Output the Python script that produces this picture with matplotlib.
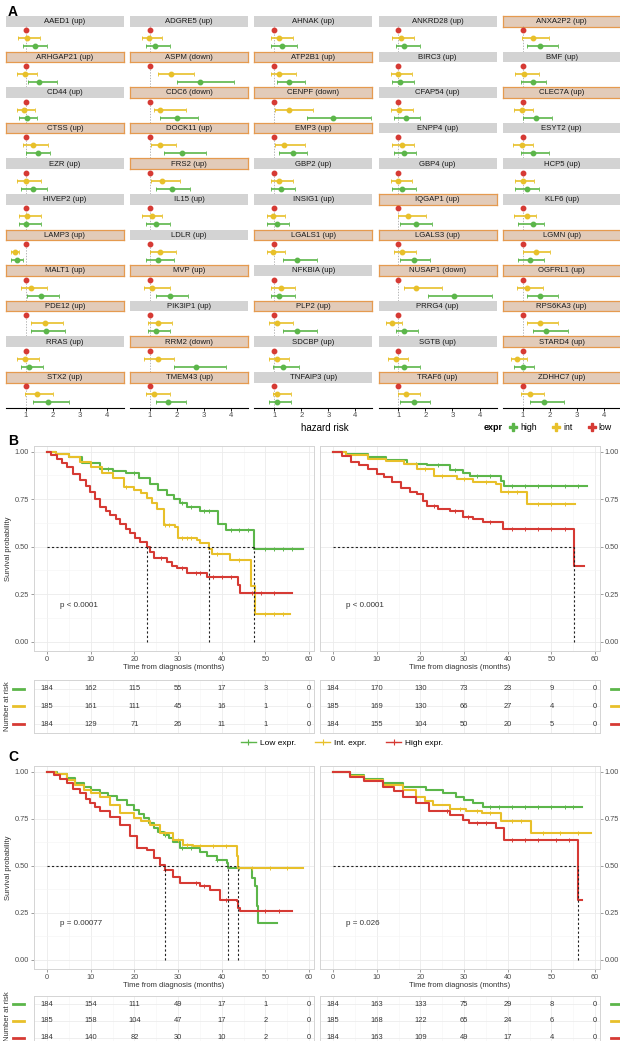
import matplotlib
matplotlib.use('Agg')
import matplotlib.pyplot as plt
from matplotlib.lines import Line2D
from matplotlib.ticker import FormatStrFormatter, MultipleLocator
import numpy as np

plt.rcParams['font.family'] = ['Liberation Sans', 'DejaVu Sans']

W, H = 620, 1041
GREEN = '#5cb64a'
YELLOW = '#e8c02a'
RED = '#d63a34'

# ---------------- panel A data ----------------
genes = ['AAED1', 'ADGRE5', 'AHNAK', 'ANKRD28', 'ANXA2P2',
         'ARHGAP21', 'ASPM', 'ATP2B1', 'BIRC3', 'BMF',
         'CD44', 'CDC6', 'CENPF', 'CFAP54', 'CLEC7A',
         'CTSS', 'DOCK11', 'EMP3', 'ENPP4', 'ESYT2',
         'EZR', 'FRS2', 'GBP2', 'GBP4', 'HCP5',
         'HIVEP2', 'IL15', 'INSIG1', 'IQGAP1', 'KLF6',
         'LAMP3', 'LDLR', 'LGALS1', 'LGALS3', 'LGMN',
         'MALT1', 'MVP', 'NFKBIA', 'NUSAP1', 'OGFRL1',
         'PDE12', 'PIK3IP1', 'PLP2', 'PRRG4', 'RPS6KA3',
         'RRAS', 'RRM2', 'SDCBP', 'SGTB', 'STARD4',
         'STX2', 'TMEM43', 'TNFAIP3', 'TRAF6', 'ZDHHC7']
down_genes = ['ASPM', 'CDC6', 'CENPF', 'NUSAP1', 'RRM2']
highlighted = ['ANXA2P2', 'ARHGAP21', 'ASPM', 'ATP2B1', 'CDC6', 'CENPF', 'CLEC7A',
               'CTSS', 'DOCK11', 'EMP3', 'FRS2', 'IQGAP1', 'LAMP3', 'LGALS1',
               'LGALS3', 'LGMN', 'MALT1', 'MVP', 'NUSAP1', 'OGFRL1', 'PDE12',
               'PLP2', 'RPS6KA3', 'RRM2', 'STARD4', 'STX2', 'TMEM43', 'TRAF6',
               'ZDHHC7']

int_hr = [1.04, 0.98, 1.19, 1.10, 1.37,
          0.97, 1.79, 1.19, 1.00, 1.07,
          0.94, 1.38, 1.53, 1.04, 0.97,
          1.26, 1.38, 1.38, 1.15, 0.97,
          1.01, 1.46, 1.19, 1.00, 1.00,
          1.04, 1.09, 0.97, 1.37, 1.15,
          0.60, 1.38, 0.97, 1.15, 1.51,
          1.19, 1.09, 1.24, 1.66, 1.15,
          1.71, 1.31, 1.12, 0.78, 1.66,
          0.97, 1.31, 1.12, 0.93, 0.78,
          1.41, 1.16, 1.12, 1.29, 1.29]
int_lo = [0.72, 0.72, 0.87, 0.78, 0.97,
          0.68, 1.28, 0.90, 0.71, 0.71,
          0.68, 1.16, 1.04, 0.71, 0.70,
          0.90, 1.04, 1.04, 0.78, 0.63,
          0.68, 1.04, 0.87, 0.71, 0.71,
          0.75, 0.72, 0.75, 1.00, 0.70,
          0.46, 1.01, 0.75, 0.85, 1.00,
          0.82, 0.79, 0.90, 1.22, 0.78,
          1.19, 0.94, 0.82, 0.56, 1.15,
          0.68, 0.79, 0.82, 0.63, 0.56,
          0.97, 0.87, 0.97, 1.00, 0.93]
int_hi = [1.53, 1.46, 1.71, 1.59, 1.96,
          1.41, 2.63, 1.79, 1.51, 1.59,
          1.34, 2.34, 2.44, 1.54, 1.37,
          1.81, 1.97, 2.15, 1.59, 1.37,
          1.56, 2.12, 1.71, 1.51, 1.44,
          1.56, 1.46, 1.41, 2.03, 1.51,
          0.75, 1.97, 1.41, 1.66, 2.03,
          1.78, 1.75, 1.78, 2.62, 1.74,
          2.37, 1.82, 1.71, 1.15, 2.32,
          1.49, 1.90, 1.56, 1.37, 1.15,
          2.00, 1.75, 1.63, 1.81, 1.81]
high_hr = [1.34, 1.20, 1.29, 1.22, 1.66,
           1.49, 2.85, 1.56, 1.07, 1.37,
           1.04, 2.00, 3.17, 1.29, 1.51,
           1.44, 2.19, 1.70, 1.22, 1.37,
           1.26, 1.82, 1.26, 1.15, 1.15,
           1.01, 1.24, 1.12, 1.66, 1.37,
           0.68, 1.31, 1.85, 1.59, 1.29,
           1.56, 1.75, 1.19, 3.06, 1.66,
           1.75, 1.24, 1.85, 1.22, 1.88,
           1.12, 2.71, 1.34, 1.22, 1.00,
           1.81, 1.68, 1.12, 1.59, 1.81]
high_lo = [0.90, 0.87, 0.87, 0.93, 1.15,
           1.07, 2.00, 1.12, 0.78, 0.93,
           0.75, 1.38, 2.22, 0.85, 1.00,
           1.00, 1.53, 1.19, 0.85, 0.93,
           0.82, 1.24, 0.87, 0.78, 0.71,
           0.75, 0.87, 0.75, 1.07, 0.85,
           0.46, 0.87, 1.34, 1.07, 0.85,
           1.04, 1.24, 0.90, 2.10, 1.15,
           1.19, 0.94, 1.34, 0.93, 1.37,
           0.82, 1.90, 0.97, 0.85, 0.70,
           1.26, 1.24, 0.82, 1.07, 1.29]
high_hi = [1.78, 1.75, 1.85, 1.81, 2.32,
           2.15, 4.10, 2.15, 1.59, 1.88,
           1.41, 2.78, 4.57, 1.81, 2.10,
           1.90, 3.07, 2.22, 1.66, 1.96,
           1.78, 2.49, 1.78, 1.66, 1.59,
           1.56, 1.75, 1.56, 2.25, 1.81,
           0.90, 1.90, 2.59, 2.18, 1.81,
           2.22, 2.41, 1.78, 4.46, 2.32,
           2.45, 1.75, 2.59, 1.74, 2.69,
           1.63, 3.81, 1.93, 1.81, 1.44,
           2.59, 2.34, 1.63, 2.18, 2.54]

# ---------------- KM data (time in months, survival probability) ----------------
bl_green_t = [0, 2, 5, 8, 12, 15, 18, 21, 23.5, 25.5, 27.5, 29, 30.5, 32, 35, 39.2, 41, 47.4, 58.6]
bl_green_s = [1, 0.99, 0.97, 0.94, 0.91, 0.90, 0.89, 0.86, 0.83, 0.80, 0.77, 0.75, 0.73, 0.71, 0.685, 0.62, 0.59, 0.49, 0.49]
bl_yellow_t = [0, 2, 5, 7.5, 10, 12.5, 15, 17.5, 19.8, 21.5, 22.8, 24, 25.1, 26.7, 29.3, 30, 34.3, 35, 37, 37.7, 41.9, 46.8, 47.6, 55.6]
bl_yellow_s = [1, 0.99, 0.97, 0.945, 0.92, 0.89, 0.86, 0.815, 0.80, 0.78, 0.755, 0.73, 0.70, 0.615, 0.605, 0.545, 0.535, 0.52, 0.49, 0.46, 0.43, 0.29, 0.145, 0.145]
bl_red_t = [0, 1, 2.3, 3.5, 4.6, 6, 7.6, 9, 9.9, 11, 12.2, 13.5, 14.5, 15.8, 16.8, 18, 19, 20.2, 21.3, 22.8, 23.6, 24.4, 27.4, 28.5, 29.7, 32, 36.6, 43.8, 44.2, 56]
bl_red_s = [1, 0.98, 0.96, 0.94, 0.92, 0.885, 0.85, 0.82, 0.79, 0.75, 0.71, 0.69, 0.667, 0.645, 0.62, 0.595, 0.57, 0.545, 0.526, 0.496, 0.47, 0.44, 0.42, 0.40, 0.386, 0.36, 0.34, 0.30, 0.254, 0.254]

br_green_t = [0, 3, 7.9, 12, 17, 21.5, 26.8, 29.8, 31.3, 38.5, 39.2, 58.1]
br_green_s = [1, 0.99, 0.97, 0.955, 0.937, 0.928, 0.905, 0.89, 0.874, 0.847, 0.82, 0.82]
br_yellow_t = [0, 3, 7.9, 12, 16.2, 19.2, 23, 28.3, 32, 37.4, 38.5, 44.5, 55.3]
br_yellow_s = [1, 0.985, 0.96, 0.95, 0.937, 0.91, 0.874, 0.855, 0.838, 0.83, 0.79, 0.726, 0.726]
br_red_t = [0, 2, 4.2, 6, 7.9, 10, 11.7, 13.5, 15.5, 17.5, 19.2, 20.5, 21.5, 24, 26.8, 29.8, 32, 34.3, 38.9, 55.1, 57.4]
br_red_s = [1, 0.975, 0.946, 0.93, 0.91, 0.885, 0.865, 0.84, 0.81, 0.79, 0.775, 0.74, 0.712, 0.70, 0.685, 0.658, 0.645, 0.63, 0.595, 0.396, 0.396]

cl_green_t = [0, 2.3, 4.6, 6.5, 8.4, 10, 12.2, 14, 16, 18.3, 19.8, 21, 22.1, 23.3, 24.4, 25.5, 26.7, 28, 28.9, 30.5, 35, 36.6, 38.8, 41.1, 41.5, 46.9, 47.6, 48, 48.4, 52.6]
cl_green_s = [1, 0.99, 0.965, 0.94, 0.92, 0.90, 0.885, 0.87, 0.85, 0.823, 0.796, 0.775, 0.752, 0.725, 0.70, 0.68, 0.664, 0.645, 0.628, 0.593, 0.575, 0.549, 0.531, 0.513, 0.487, 0.434, 0.39, 0.283, 0.195, 0.195]
cl_yellow_t = [0, 2, 4.6, 6.5, 8.4, 10, 12.2, 14.5, 16.8, 19.8, 21.5, 23.6, 25.9, 28.9, 31.2, 33.5, 43.4, 43.8, 58.6]
cl_yellow_s = [1, 0.985, 0.956, 0.93, 0.90, 0.885, 0.867, 0.823, 0.779, 0.752, 0.735, 0.717, 0.673, 0.637, 0.611, 0.602, 0.549, 0.487, 0.487]
cl_red_t = [0, 1.5, 3, 4.6, 6, 7.6, 9, 9.9, 11, 12.2, 14.5, 16.8, 19, 20.6, 22.8, 24.4, 25.9, 27, 28.9, 30.5, 35, 37.3, 39.6, 43.4, 43.8, 44.2, 56]
cl_red_s = [1, 0.98, 0.96, 0.938, 0.91, 0.885, 0.855, 0.832, 0.81, 0.788, 0.761, 0.717, 0.655, 0.593, 0.584, 0.54, 0.504, 0.478, 0.442, 0.407, 0.393, 0.372, 0.319, 0.31, 0.274, 0.257, 0.257]

cr_green_t = [0, 3.8, 7, 11.4, 16, 21.3, 25.1, 28.2, 30, 32, 34.3, 57.1]
cr_green_s = [1, 0.982, 0.96, 0.938, 0.92, 0.903, 0.885, 0.867, 0.85, 0.832, 0.81, 0.81]
cr_yellow_t = [0, 3.8, 7, 11.4, 16, 19, 21, 22.8, 26.7, 30.5, 34, 38.5, 45.3, 59]
cr_yellow_s = [1, 0.977, 0.955, 0.929, 0.903, 0.867, 0.845, 0.823, 0.80, 0.79, 0.78, 0.735, 0.673, 0.673]
cr_red_t = [0, 3.8, 7, 11.4, 14, 16, 19, 22, 26.7, 29.7, 31.2, 37.3, 39.2, 56, 57.1]
cr_red_s = [1, 0.973, 0.95, 0.92, 0.895, 0.867, 0.832, 0.788, 0.77, 0.743, 0.726, 0.70, 0.637, 0.319, 0.319]

# censored times (a subset)
bl_green_c = [14, 20, 31, 33, 36, 37, 42, 44, 46, 50, 52, 54, 56]
bl_yellow_c = [18, 27, 28, 31, 32, 33, 39, 44, 50, 52, 54]
bl_red_c = [26, 31, 34, 35, 38, 40, 42, 47, 49, 52]
br_green_c = [19, 24, 28, 33, 36, 41, 44, 47, 50, 53, 56]
br_yellow_c = [21, 25, 30, 35, 40, 42, 47, 50, 53]
br_red_c = [23, 28, 31, 36, 41, 44, 47, 50, 53]
cl_green_c = [27, 31, 33, 39, 44]
cl_yellow_c = [27, 30, 32, 35, 38, 41, 47, 51, 55]
cl_red_c = [27, 34, 36, 41, 50, 53]
cr_green_c = [36, 38, 41, 44, 47, 50, 53, 55]
cr_yellow_c = [29, 33, 36, 41, 43, 48, 52, 56]
cr_red_c = [26, 33, 35, 41, 44, 47, 51, 54]

risk_times = [0, 10, 20, 30, 40, 50, 60]
bl_risk = [[184, 162, 115, 55, 17, 3, 0], [185, 161, 111, 45, 16, 1, 0], [184, 129, 71, 26, 11, 1, 0]]
br_risk = [[184, 170, 130, 73, 23, 9, 0], [185, 169, 130, 66, 27, 4, 0], [184, 155, 104, 50, 20, 5, 0]]
cl_risk = [[184, 154, 111, 49, 17, 1, 0], [185, 158, 104, 47, 17, 2, 0], [184, 140, 82, 30, 10, 2, 0]]
cr_risk = [[184, 163, 133, 75, 29, 8, 0], [185, 168, 122, 65, 24, 6, 0], [184, 163, 109, 49, 17, 4, 0]]

fig = plt.figure(figsize=(W / 100, H / 100), dpi=100)


def px_axes(x0, y0, x1, y1):
    return fig.add_axes([x0 / W, 1 - y1 / H, (x1 - x0) / W, (y1 - y0) / H])


# ---------------- panel A ----------------
pitch = 35.6
col_w = 118
for i, g in enumerate(genes):
    r, c = divmod(i, 5)
    x0 = 6 + c * 124.2
    top = 16 + r * pitch
    sax = px_axes(x0, top, x0 + col_w, top + 10.5)
    sax.set_xticks([]); sax.set_yticks([])
    if g in highlighted:
        sax.set_facecolor('#e2cbb9')
        for sp in sax.spines.values():
            sp.set_color('#e59a4f'); sp.set_linewidth(0.9)
    else:
        sax.set_facecolor('#d3d3d3')
        for sp in sax.spines.values():
            sp.set_visible(False)
    lab = g + (' (down)' if g in down_genes else ' (up)')
    sax.text(0.5, 0.45, lab, ha='center', va='center', fontsize=5.6, color='#1a1a1a',
             transform=sax.transAxes)

    ax = px_axes(x0, top + 10.5, x0 + col_w, top + pitch)
    ax.set_xlim(0.27, 4.63)
    ax.set_ylim(0.35, 3.5)
    ax.axvline(1, color='#9a9a9a', lw=0.5, ls=(0, (2, 2)), zorder=0)
    ax.plot([1], [3], 'o', color=RED, ms=3.2)
    ax.errorbar([int_hr[i]], [2], xerr=[[int_hr[i] - int_lo[i]], [int_hi[i] - int_hr[i]]],
                fmt='o', color=YELLOW, ms=3.2, lw=1.2, capsize=1.2, capthick=0.6)
    ax.errorbar([high_hr[i]], [1], xerr=[[high_hr[i] - high_lo[i]], [high_hi[i] - high_hr[i]]],
                fmt='o', color=GREEN, ms=3.2, lw=1.2, capsize=1.2, capthick=0.6)
    ax.set_yticks([])
    for sp in ['top', 'right', 'left']:
        ax.spines[sp].set_visible(False)
    if r == 10:
        ax.spines['bottom'].set_linewidth(0.8)
        ax.set_xticks([1, 2, 3, 4])
        ax.tick_params(axis='x', length=2, width=0.6, labelsize=5.5, pad=1.5, labelcolor='#4d4d4d')
    else:
        ax.spines['bottom'].set_visible(False)
        ax.set_xticks([])
    ax.patch.set_alpha(0)

fig.text(325 / W, 1 - 428 / H, 'hazard risk', ha='center', va='center', fontsize=7)
fig.text(484 / W, 1 - 428 / H, 'expr', ha='left', va='center', fontsize=6.5, fontweight='bold')
a_handles = [Line2D([], [], color=col, marker='P', ms=5.5, lw=0) for col in (GREEN, YELLOW, RED)]
fig.legend(a_handles, ['high', 'int', 'low'], ncol=3, loc='center left',
           bbox_to_anchor=(500 / W, 1 - 428 / H), frameon=False, fontsize=6.3,
           handletextpad=0.2, columnspacing=1.6, handlelength=1.2)

fig.text(8 / W, 1 - 12 / H, 'A', fontsize=10, fontweight='bold', va='center')
fig.text(8 / W, 1 - 441 / H, 'B', fontsize=10, fontweight='bold', va='center')
fig.text(8 / W, 1 - 757 / H, 'C', fontsize=10, fontweight='bold', va='center')


# ---------------- KM panels ----------------
def step_val(t, s, x):
    idx = np.searchsorted(t, x, side='right') - 1
    return np.asarray(s)[idx]


def km_panel(ax, curves, ptext, right=False, ylab=True):
    for t, s, cens, col in curves:
        ax.step(t, s, where='post', color=col, lw=1.5, zorder=3)
        cs = [x for x in cens if x <= t[-1]]
        ax.plot(cs, step_val(np.array(t), s, np.array(cs)), '+', color=col, ms=3.5, mew=0.7, zorder=3)
    meds = []
    for t, s, cens, col in curves:
        below = [tt for tt, ss in zip(t, s) if ss <= 0.5]
        if below:
            meds.append(below[0])
    if meds:
        ax.plot([0, max(meds)], [0.5, 0.5], color='#222222', lw=0.8, ls=(0, (2, 2)), zorder=4)
        for m in meds:
            ax.plot([m, m], [0, 0.5], color='#222222', lw=0.8, ls=(0, (2, 2)), zorder=4)
    ax.set_xlim(-3, 61)
    ax.set_ylim(-0.05, 1.03)
    ax.set_xticks(risk_times)
    ax.set_yticks([0, 0.25, 0.5, 0.75, 1.0])
    ax.yaxis.set_major_formatter(FormatStrFormatter('%.2f'))
    ax.xaxis.set_minor_locator(MultipleLocator(5))
    ax.yaxis.set_minor_locator(MultipleLocator(0.125))
    ax.grid(which='major', color='#ebebeb', lw=0.6)
    ax.grid(which='minor', color='#f4f4f4', lw=0.4)
    ax.set_axisbelow(True)
    for sp in ax.spines.values():
        sp.set_color('#d4d4d4'); sp.set_linewidth(0.7)
    ax.tick_params(which='major', length=2, width=0.5, color='#777777', labelsize=5.3, labelcolor='#4d4d4d', pad=1.5)
    ax.tick_params(which='minor', length=0)
    ax.text(3, 0.19, ptext, fontsize=5.8, color='#333333', va='center')
    ax.set_xlabel('Time from diagnosis (months)', fontsize=5.5, color='#333333', labelpad=1)
    if right:
        ax.yaxis.tick_right()
    if ylab:
        ax.set_ylabel('Survival probability', fontsize=5.5, color='#333333', labelpad=2)


def risk_table(ax, rows, right=False):
    cols = [GREEN, YELLOW, RED]
    for k, vals in enumerate(rows):
        y = 3 - k
        for t, v in zip(risk_times, vals):
            ax.text(t, y, str(v), ha='center', va='center', fontsize=5.4, color='#333333')
        if right:
            ax.plot([1.04, 1.08], [y, y], color=cols[k], lw=2, clip_on=False,
                    transform=ax.get_yaxis_transform())
        else:
            ax.plot([-0.075, -0.035], [y, y], color=cols[k], lw=2, clip_on=False,
                    transform=ax.get_yaxis_transform())
    ax.set_xlim(-3, 61)
    ax.set_ylim(0.5, 3.5)
    ax.set_xticks(risk_times)
    ax.set_yticks([1, 2, 3])
    ax.xaxis.set_minor_locator(MultipleLocator(5))
    ax.grid(which='major', color='#ececec', lw=0.6)
    ax.grid(which='minor', axis='x', color='#f5f5f5', lw=0.4)
    ax.tick_params(which='both', length=0, labelbottom=False, labelleft=False)
    for sp in ax.spines.values():
        sp.set_color('#d4d4d4'); sp.set_linewidth(0.7)


LX0, LX1 = 34, 313.5
RX0, RX1 = 320, 599.5

ax = px_axes(LX0, 446, LX1, 651)
km_panel(ax, [(bl_green_t, bl_green_s, bl_green_c, GREEN), (bl_yellow_t, bl_yellow_s, bl_yellow_c, YELLOW),
              (bl_red_t, bl_red_s, bl_red_c, RED)], 'p < 0.0001')
ax = px_axes(RX0, 446, RX1, 651)
km_panel(ax, [(br_green_t, br_green_s, br_green_c, GREEN), (br_yellow_t, br_yellow_s, br_yellow_c, YELLOW),
              (br_red_t, br_red_s, br_red_c, RED)], 'p < 0.0001', right=True, ylab=False)

ax = px_axes(LX0, 680, LX1, 733)
risk_table(ax, bl_risk)
ax = px_axes(RX0, 680, RX1, 733)
risk_table(ax, br_risk, right=True)
fig.text(8 / W, 1 - 706 / H, 'Number at risk', rotation=90, ha='center', va='center', fontsize=5.5, color='#333333')

km_handles = [Line2D([], [], color=col, marker='+', ms=5, mew=0.8, lw=1) for col in (GREEN, YELLOW, RED)]
fig.legend(km_handles, ['Low expr.', 'Int. expr.', 'High expr.'], ncol=3, loc='center',
           bbox_to_anchor=(342 / W, 1 - 743 / H), frameon=False, fontsize=6,
           handletextpad=0.5, columnspacing=2.3, handlelength=1.8)

ax = px_axes(LX0, 766, LX1, 969)
km_panel(ax, [(cl_green_t, cl_green_s, cl_green_c, GREEN), (cl_yellow_t, cl_yellow_s, cl_yellow_c, YELLOW),
              (cl_red_t, cl_red_s, cl_red_c, RED)], 'p = 0.00077')
ax = px_axes(RX0, 766, RX1, 969)
km_panel(ax, [(cr_green_t, cr_green_s, cr_green_c, GREEN), (cr_yellow_t, cr_yellow_s, cr_yellow_c, YELLOW),
              (cr_red_t, cr_red_s, cr_red_c, RED)], 'p = 0.026', right=True, ylab=False)

ax = px_axes(LX0, 996, LX1, 1046)
risk_table(ax, cl_risk)
ax = px_axes(RX0, 996, RX1, 1046)
risk_table(ax, cr_risk, right=True)
fig.text(8 / W, 1 - 1016 / H, 'Number at risk', rotation=90, ha='center', va='center', fontsize=5.5, color='#333333')

fig.savefig('out.png', dpi=100)
